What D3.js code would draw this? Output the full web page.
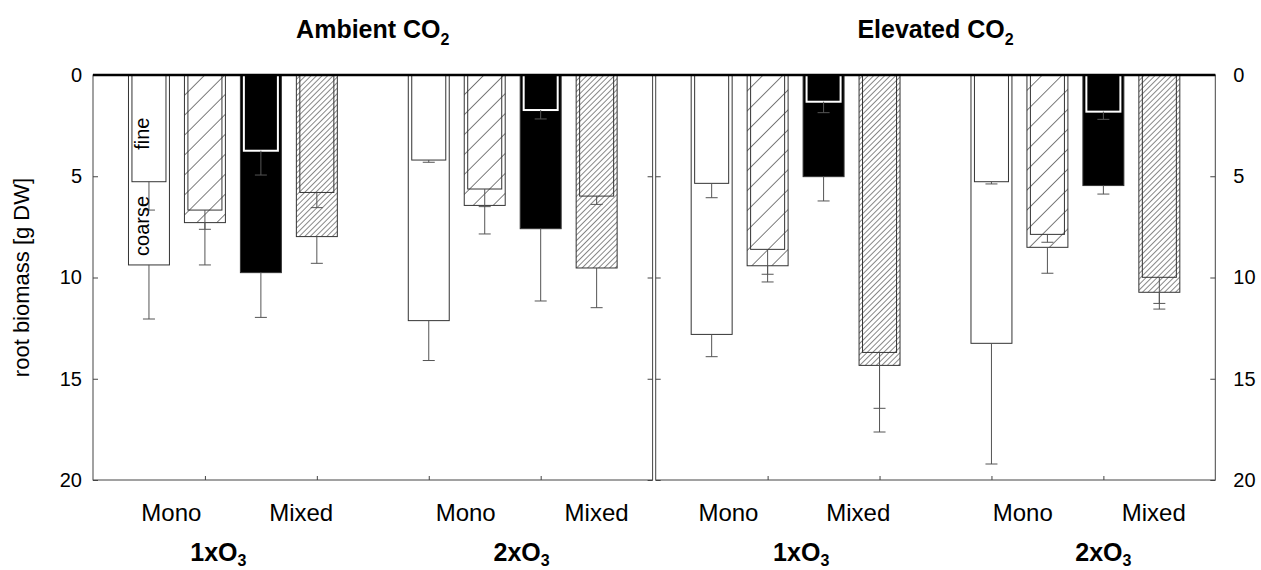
<!DOCTYPE html>
<html><head><meta charset="utf-8">
<script src="https://cdn.jsdelivr.net/npm/d3@7"></script>
<style>
body{margin:0;background:#fff;}
svg{display:block;font-family:"Liberation Sans",Arial,Helvetica,sans-serif;}
</style></head><body>
<svg id="chart" width="1261" height="570"></svg>
<script>
// Panels (CO2 treatment), ozone groups and culture types
const panelTitles = ["Ambient CO", "Elevated CO"];
const ozoneLabels = ["1xO", "2xO"];
const cultures = ["Mono", "Mixed"];
const yTicks = [0, 5, 10, 15, 20];

// Bar order in each panel: 1xO3 [Mono sp1, Mono sp2, Mixed sp1, Mixed sp2], 2xO3 [same]
const fineAmbient      = [5.27, 6.67, 3.74, 5.80, 4.20, 5.63, 1.73, 5.98];
const fineErrAmbient   = [1.40, 0.95, 1.20, 0.75, 0.11, 0.87, 0.44, 0.41];
const coarseAmbient    = [9.38, 7.29, 9.76, 7.98, 12.13, 6.44, 7.59, 9.53];
const coarseErrAmbient = [2.67, 2.09, 2.21, 1.32, 1.97, 1.41, 3.57, 1.96];

const fineElevated      = [5.35, 8.61, 1.32, 13.70, 5.27, 7.87, 1.81, 9.99];
const fineErrElevated   = [0.71, 1.23, 0.54, 2.76, 0.11, 0.39, 0.38, 1.29];
const coarseElevated    = [12.81, 9.42, 5.02, 14.34, 13.25, 8.51, 5.46, 10.73];
const coarseErrElevated = [1.10, 0.80, 1.20, 3.29, 5.96, 1.28, 0.42, 0.83];

const panelData = [
  {fine: fineAmbient, fineErr: fineErrAmbient, coarse: coarseAmbient, coarseErr: coarseErrAmbient},
  {fine: fineElevated, fineErr: fineErrElevated, coarse: coarseElevated, coarseErr: coarseErrElevated}
];

const svg = d3.select("#chart");
const defs = svg.append("defs");

function hatch(id, spacing, width) {
  const p = defs.append("pattern").attr("id", id)
    .attr("patternUnits", "userSpaceOnUse")
    .attr("width", spacing).attr("height", spacing)
    .attr("patternTransform", "rotate(45)");
  p.append("rect").attr("width", spacing).attr("height", spacing).attr("fill", "#fff");
  p.append("line").attr("x1", 0).attr("y1", 0).attr("x2", 0).attr("y2", spacing)
    .attr("stroke", "#111").attr("stroke-width", width);
}
hatch("hatchWide", 14.1, 1.1);
hatch("hatchFine", 3.9, 1);

const barStyles = [
  {outerFill: "#fff", innerFill: "#fff", outerStroke: "#333", innerStroke: "#333", innerWidth: 1},
  {outerFill: "url(#hatchWide)", innerFill: "url(#hatchWide)", outerStroke: "#333", innerStroke: "#333", innerWidth: 1},
  {outerFill: "#000", innerFill: "#000", outerStroke: "#333", innerStroke: "#fff", innerWidth: 2},
  {outerFill: "url(#hatchFine)", innerFill: "url(#hatchFine)", outerStroke: "#333", innerStroke: "#333", innerWidth: 1}
];

const plotTop = 75, plotBottom = 480;
const panelLeft = [93, 655.7], panelWidth = 559.6;
const y = d3.scaleLinear().domain([0, 20]).range([plotTop, plotBottom]);

// text label placements (in x-axis units) per panel
const cultureAt = [[0.70, 1.86, 3.33, 4.50], [0.65, 1.81, 3.28, 4.45]];
const ozoneAt = [[1.12, 3.83], [1.30, 4.00]];

panelData.forEach((d, pi) => {
  const x = d3.scaleLinear().domain([0, 5]).range([panelLeft[pi], panelLeft[pi] + panelWidth]);
  const g = svg.append("g");
  const slot = x(1) - x(0);
  const ow = slot * 0.366, iw = slot * 0.304, cap = 12;

  // frame
  g.append("rect").attr("x", x(0)).attr("y", y(0))
    .attr("width", x(5) - x(0)).attr("height", y(20) - y(0))
    .attr("fill", "none").attr("stroke", "#444").attr("stroke-width", 1);

  // bars: outer (coarse) and inner (fine) with one-sided error bars
  d.fine.forEach((fv, i) => {
    const gi = Math.floor(i / 4), k = i % 4;
    const pos = 1.25 + 2.5 * gi + (k - 1.5) * 0.5;
    const cx = x(pos), s = barStyles[k];
    g.append("rect").attr("x", cx - ow / 2).attr("y", y(0))
      .attr("width", ow).attr("height", y(d.coarse[i]) - y(0))
      .attr("fill", s.outerFill).attr("stroke", s.outerStroke).attr("stroke-width", 1);
    g.append("rect").attr("x", cx - iw / 2).attr("y", y(0))
      .attr("width", iw).attr("height", y(fv) - y(0))
      .attr("fill", s.innerFill).attr("stroke", s.innerStroke).attr("stroke-width", s.innerWidth);
    [[fv, d.fineErr[i]], [d.coarse[i], d.coarseErr[i]]].forEach(([v, e]) => {
      g.append("line").attr("x1", cx).attr("x2", cx).attr("y1", y(v)).attr("y2", y(v + e))
        .attr("stroke", "#555").attr("stroke-width", 1);
      g.append("line").attr("x1", cx - cap / 2).attr("x2", cx + cap / 2).attr("y1", y(v + e)).attr("y2", y(v + e))
        .attr("stroke", "#555").attr("stroke-width", 1);
    });
  });

  // inward ticks on both sides and bottom
  const left = g.append("g").attr("transform", `translate(${x(0)},0)`)
    .call(d3.axisLeft(y).tickValues(yTicks).tickSize(-5).tickPadding(11));
  const right = g.append("g").attr("transform", `translate(${x(5)},0)`)
    .call(d3.axisRight(y).tickValues(yTicks).tickSize(-5).tickPadding(18));
  if (pi === 0) right.selectAll("text").remove(); else left.selectAll("text").remove();
  g.append("g").attr("transform", `translate(0,${y(20)})`)
    .call(d3.axisBottom(x).tickValues([1, 2, 3, 4]).tickSize(-4).tickFormat(""));
  g.selectAll(".domain").remove();
  g.selectAll(".tick line").attr("stroke", "#444");
  g.selectAll(".tick text").attr("font-size", 20).attr("fill", "#000")
    .attr("font-family", "'Liberation Sans',Arial,sans-serif");

  // category labels
  cultureAt[pi].forEach((p, j) => {
    g.append("text").attr("x", x(p)).attr("y", 521).attr("text-anchor", "middle")
      .attr("font-size", 24).text(cultures[j % 2]);
  });
  ozoneAt[pi].forEach((p, j) => {
    const t = g.append("text").attr("x", x(p)).attr("y", 561).attr("text-anchor", "middle")
      .attr("font-size", 25).attr("font-weight", "bold");
    t.append("tspan").text(ozoneLabels[j]);
    t.append("tspan").attr("dy", 5).attr("font-size", 16).text("3");
  });

  // panel title
  const tt = g.append("text").attr("x", x(2.5)).attr("y", 38).attr("text-anchor", "middle")
    .attr("font-size", 25).attr("font-weight", "bold");
  tt.append("tspan").text(panelTitles[pi]);
  tt.append("tspan").attr("dy", 7).attr("font-size", 16).text("2");

  if (pi === 0) {
    // fraction annotations inside the first bar
    const cx = x(0.5);
    g.append("text").attr("transform", `translate(${cx},${y(2.9)}) rotate(-90)`)
      .attr("text-anchor", "middle").attr("font-size", 20).text("fine");
    g.append("text").attr("transform", `translate(${cx},${y(7.45)}) rotate(-90)`)
      .attr("text-anchor", "middle").attr("font-size", 20).text("coarse");
  }
});

// zero baseline across both panels
svg.append("line").attr("x1", panelLeft[0]).attr("x2", panelLeft[1] + panelWidth)
  .attr("y1", y(0)).attr("y2", y(0)).attr("stroke", "#000").attr("stroke-width", 2.5);

// y-axis title
svg.append("text").attr("transform", `translate(29,${(plotTop + plotBottom) / 2}) rotate(-90)`)
  .attr("text-anchor", "middle").attr("font-size", 22).text("root biomass [g DW]");
</script>
</body></html>
